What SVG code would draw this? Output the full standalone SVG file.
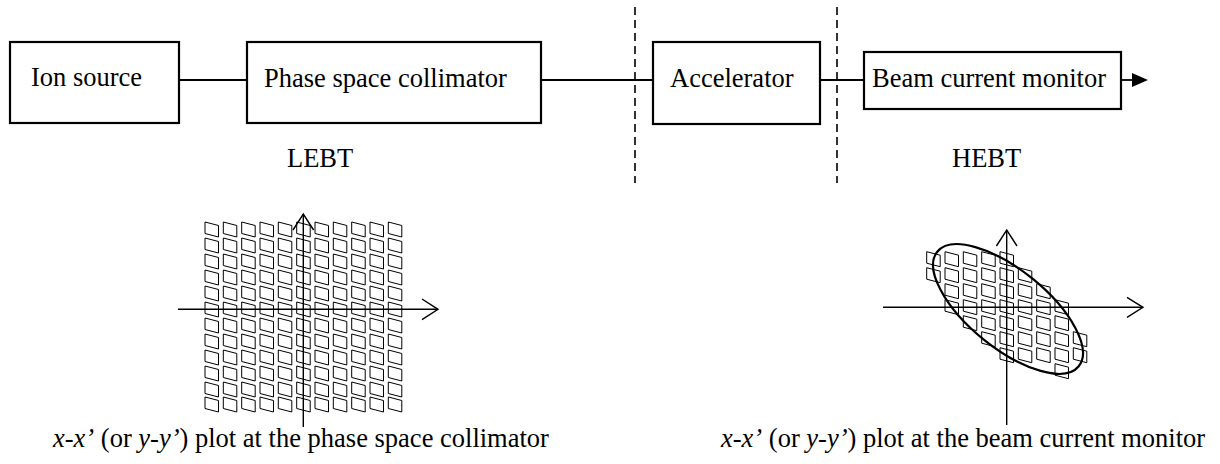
<svg xmlns="http://www.w3.org/2000/svg" xmlns:xlink="http://www.w3.org/1999/xlink" width="1220" height="464" viewBox="0 0 1220 464">
<style>
.box{fill:#fff;stroke:#000;stroke-width:2.2}
.t{font-family:"Liberation Serif","Times New Roman",serif;font-size:26.5px;fill:#000}
.ln{stroke:#000;stroke-width:1.8;fill:none}
.dash{stroke:#000;stroke-width:1.6;stroke-dasharray:8 5;fill:none}
.ax{stroke:#000;stroke-width:1.4;fill:none}
.cell{fill:none;stroke:#000;stroke-width:1}
.ell{fill:none;stroke:#000;stroke-width:2.2}
.i{font-style:italic}
</style>
<defs>
<path id="c" class="cell" d="M0,0 L13.5,3.5 L13.5,15 L0,11.5 Z"/>
</defs>
<rect width="1220" height="464" fill="#fff"/>
<g id="connectors">
<line class="ln" x1="179" y1="80" x2="247" y2="80"/>
<line class="ln" x1="541" y1="80" x2="653" y2="80"/>
<line class="ln" x1="820" y1="80" x2="864" y2="80"/>
<line class="ln" x1="1121" y1="80" x2="1134" y2="80"/>
<path d="M1132,73 L1148,80 L1132,87 Z" fill="#000"/>
<line class="dash" x1="635" y1="7" x2="635" y2="183"/>
<line class="dash" x1="837" y1="7" x2="837" y2="183"/>
</g>
<g id="ion-source"><rect class="box" x="10" y="42" width="169" height="81"/><text class="t" x="31" y="86">Ion source</text></g>
<g id="phase-space-collimator"><rect class="box" x="247" y="42" width="294" height="81"/><text class="t" x="264" y="87">Phase space collimator</text></g>
<g id="accelerator"><rect class="box" x="653" y="42" width="167" height="82"/><text class="t" x="670" y="87">Accelerator</text></g>
<g id="beam-current-monitor"><rect class="box" x="864" y="52" width="257" height="57"/><text class="t" x="872" y="87">Beam current monitor</text></g>
<g id="lebt"><text class="t" x="287" y="167">LEBT</text></g>
<g id="hebt"><text class="t" x="952" y="167">HEBT</text></g>
<g id="plot-left">
<g id="grid-left">
<use xlink:href="#c" x="205" y="222"/><use xlink:href="#c" x="223.3" y="222"/><use xlink:href="#c" x="241.7" y="222"/><use xlink:href="#c" x="260" y="222"/><use xlink:href="#c" x="278.3" y="222"/><use xlink:href="#c" x="296.7" y="222"/><use xlink:href="#c" x="315" y="222"/><use xlink:href="#c" x="333.3" y="222"/><use xlink:href="#c" x="351.7" y="222"/><use xlink:href="#c" x="370" y="222"/><use xlink:href="#c" x="388.3" y="222"/>
<use xlink:href="#c" x="205" y="238"/><use xlink:href="#c" x="223.3" y="238"/><use xlink:href="#c" x="241.7" y="238"/><use xlink:href="#c" x="260" y="238"/><use xlink:href="#c" x="278.3" y="238"/><use xlink:href="#c" x="296.7" y="238"/><use xlink:href="#c" x="315" y="238"/><use xlink:href="#c" x="333.3" y="238"/><use xlink:href="#c" x="351.7" y="238"/><use xlink:href="#c" x="370" y="238"/><use xlink:href="#c" x="388.3" y="238"/>
<use xlink:href="#c" x="205" y="254"/><use xlink:href="#c" x="223.3" y="254"/><use xlink:href="#c" x="241.7" y="254"/><use xlink:href="#c" x="260" y="254"/><use xlink:href="#c" x="278.3" y="254"/><use xlink:href="#c" x="296.7" y="254"/><use xlink:href="#c" x="315" y="254"/><use xlink:href="#c" x="333.3" y="254"/><use xlink:href="#c" x="351.7" y="254"/><use xlink:href="#c" x="370" y="254"/><use xlink:href="#c" x="388.3" y="254"/>
<use xlink:href="#c" x="205" y="270"/><use xlink:href="#c" x="223.3" y="270"/><use xlink:href="#c" x="241.7" y="270"/><use xlink:href="#c" x="260" y="270"/><use xlink:href="#c" x="278.3" y="270"/><use xlink:href="#c" x="296.7" y="270"/><use xlink:href="#c" x="315" y="270"/><use xlink:href="#c" x="333.3" y="270"/><use xlink:href="#c" x="351.7" y="270"/><use xlink:href="#c" x="370" y="270"/><use xlink:href="#c" x="388.3" y="270"/>
<use xlink:href="#c" x="205" y="286"/><use xlink:href="#c" x="223.3" y="286"/><use xlink:href="#c" x="241.7" y="286"/><use xlink:href="#c" x="260" y="286"/><use xlink:href="#c" x="278.3" y="286"/><use xlink:href="#c" x="296.7" y="286"/><use xlink:href="#c" x="315" y="286"/><use xlink:href="#c" x="333.3" y="286"/><use xlink:href="#c" x="351.7" y="286"/><use xlink:href="#c" x="370" y="286"/><use xlink:href="#c" x="388.3" y="286"/>
<use xlink:href="#c" x="205" y="302"/><use xlink:href="#c" x="223.3" y="302"/><use xlink:href="#c" x="241.7" y="302"/><use xlink:href="#c" x="260" y="302"/><use xlink:href="#c" x="278.3" y="302"/><use xlink:href="#c" x="296.7" y="302"/><use xlink:href="#c" x="315" y="302"/><use xlink:href="#c" x="333.3" y="302"/><use xlink:href="#c" x="351.7" y="302"/><use xlink:href="#c" x="370" y="302"/><use xlink:href="#c" x="388.3" y="302"/>
<use xlink:href="#c" x="205" y="318"/><use xlink:href="#c" x="223.3" y="318"/><use xlink:href="#c" x="241.7" y="318"/><use xlink:href="#c" x="260" y="318"/><use xlink:href="#c" x="278.3" y="318"/><use xlink:href="#c" x="296.7" y="318"/><use xlink:href="#c" x="315" y="318"/><use xlink:href="#c" x="333.3" y="318"/><use xlink:href="#c" x="351.7" y="318"/><use xlink:href="#c" x="370" y="318"/><use xlink:href="#c" x="388.3" y="318"/>
<use xlink:href="#c" x="205" y="334"/><use xlink:href="#c" x="223.3" y="334"/><use xlink:href="#c" x="241.7" y="334"/><use xlink:href="#c" x="260" y="334"/><use xlink:href="#c" x="278.3" y="334"/><use xlink:href="#c" x="296.7" y="334"/><use xlink:href="#c" x="315" y="334"/><use xlink:href="#c" x="333.3" y="334"/><use xlink:href="#c" x="351.7" y="334"/><use xlink:href="#c" x="370" y="334"/><use xlink:href="#c" x="388.3" y="334"/>
<use xlink:href="#c" x="205" y="350"/><use xlink:href="#c" x="223.3" y="350"/><use xlink:href="#c" x="241.7" y="350"/><use xlink:href="#c" x="260" y="350"/><use xlink:href="#c" x="278.3" y="350"/><use xlink:href="#c" x="296.7" y="350"/><use xlink:href="#c" x="315" y="350"/><use xlink:href="#c" x="333.3" y="350"/><use xlink:href="#c" x="351.7" y="350"/><use xlink:href="#c" x="370" y="350"/><use xlink:href="#c" x="388.3" y="350"/>
<use xlink:href="#c" x="205" y="366"/><use xlink:href="#c" x="223.3" y="366"/><use xlink:href="#c" x="241.7" y="366"/><use xlink:href="#c" x="260" y="366"/><use xlink:href="#c" x="278.3" y="366"/><use xlink:href="#c" x="296.7" y="366"/><use xlink:href="#c" x="315" y="366"/><use xlink:href="#c" x="333.3" y="366"/><use xlink:href="#c" x="351.7" y="366"/><use xlink:href="#c" x="370" y="366"/><use xlink:href="#c" x="388.3" y="366"/>
<use xlink:href="#c" x="205" y="382"/><use xlink:href="#c" x="223.3" y="382"/><use xlink:href="#c" x="241.7" y="382"/><use xlink:href="#c" x="260" y="382"/><use xlink:href="#c" x="278.3" y="382"/><use xlink:href="#c" x="296.7" y="382"/><use xlink:href="#c" x="315" y="382"/><use xlink:href="#c" x="333.3" y="382"/><use xlink:href="#c" x="351.7" y="382"/><use xlink:href="#c" x="370" y="382"/><use xlink:href="#c" x="388.3" y="382"/>
<use xlink:href="#c" x="205" y="397"/><use xlink:href="#c" x="223.3" y="397"/><use xlink:href="#c" x="241.7" y="397"/><use xlink:href="#c" x="260" y="397"/><use xlink:href="#c" x="278.3" y="397"/><use xlink:href="#c" x="296.7" y="397"/><use xlink:href="#c" x="315" y="397"/><use xlink:href="#c" x="333.3" y="397"/><use xlink:href="#c" x="351.7" y="397"/><use xlink:href="#c" x="370" y="397"/><use xlink:href="#c" x="388.3" y="397"/>
</g>
<line class="ax" x1="178" y1="309.3" x2="438" y2="309.3"/>
<path class="ax" d="M422,299 L438,309.3 L422,319.6"/>
<line class="ax" x1="303.3" y1="214" x2="303.3" y2="427"/>
<path class="ax" d="M293,230 L303.3,214 L313.6,230"/>
<text class="t" x="53" y="447"><tspan class="i">x-x’</tspan> (or <tspan class="i">y-y’</tspan>) plot at the phase space collimator</text>
</g>
<g id="plot-right">
<g id="grid-right">
<use xlink:href="#c" x="926.7" y="251.7"/><use xlink:href="#c" x="945" y="251.7"/><use xlink:href="#c" x="963.3" y="251.7"/><use xlink:href="#c" x="981.7" y="251.7"/><use xlink:href="#c" x="1000" y="251.7"/>
<use xlink:href="#c" x="926.7" y="267.7"/><use xlink:href="#c" x="945" y="267.7"/><use xlink:href="#c" x="963.3" y="267.7"/><use xlink:href="#c" x="981.7" y="267.7"/><use xlink:href="#c" x="1000" y="267.7"/><use xlink:href="#c" x="1018.3" y="267.7"/>
<use xlink:href="#c" x="945" y="283.7"/><use xlink:href="#c" x="963.3" y="283.7"/><use xlink:href="#c" x="981.7" y="283.7"/><use xlink:href="#c" x="1000" y="283.7"/><use xlink:href="#c" x="1018.3" y="283.7"/><use xlink:href="#c" x="1036.7" y="283.7"/>
<use xlink:href="#c" x="945" y="299.7"/><use xlink:href="#c" x="963.3" y="299.7"/><use xlink:href="#c" x="981.7" y="299.7"/><use xlink:href="#c" x="1000" y="299.7"/><use xlink:href="#c" x="1018.3" y="299.7"/><use xlink:href="#c" x="1036.7" y="299.7"/><use xlink:href="#c" x="1055" y="299.7"/>
<use xlink:href="#c" x="963.3" y="315.7"/><use xlink:href="#c" x="981.7" y="315.7"/><use xlink:href="#c" x="1000" y="315.7"/><use xlink:href="#c" x="1018.3" y="315.7"/><use xlink:href="#c" x="1036.7" y="315.7"/><use xlink:href="#c" x="1055" y="315.7"/>
<use xlink:href="#c" x="981.7" y="331.7"/><use xlink:href="#c" x="1000" y="331.7"/><use xlink:href="#c" x="1018.3" y="331.7"/><use xlink:href="#c" x="1036.7" y="331.7"/><use xlink:href="#c" x="1055" y="331.7"/><use xlink:href="#c" x="1073.3" y="331.7"/>
<use xlink:href="#c" x="1000" y="347.7"/><use xlink:href="#c" x="1018.3" y="347.7"/><use xlink:href="#c" x="1036.7" y="347.7"/><use xlink:href="#c" x="1055" y="347.7"/><use xlink:href="#c" x="1073.3" y="347.7"/>
<use xlink:href="#c" x="1055" y="363.7"/>
</g>
<ellipse class="ell" cx="1008" cy="309" rx="91" ry="39" transform="rotate(39 1008 309)"/>
<line class="ax" x1="883" y1="307.3" x2="1143" y2="307.3"/>
<path class="ax" d="M1127,297.3 L1143,307.3 L1127,317.3"/>
<line class="ax" x1="1006.7" y1="230" x2="1006.7" y2="425"/>
<path class="ax" d="M996.4,246 L1006.7,230 L1017,246"/>
<text class="t" x="721" y="447"><tspan class="i">x-x’</tspan> (or <tspan class="i">y-y’</tspan>) plot at the beam current monitor</text>
</g>
</svg>
